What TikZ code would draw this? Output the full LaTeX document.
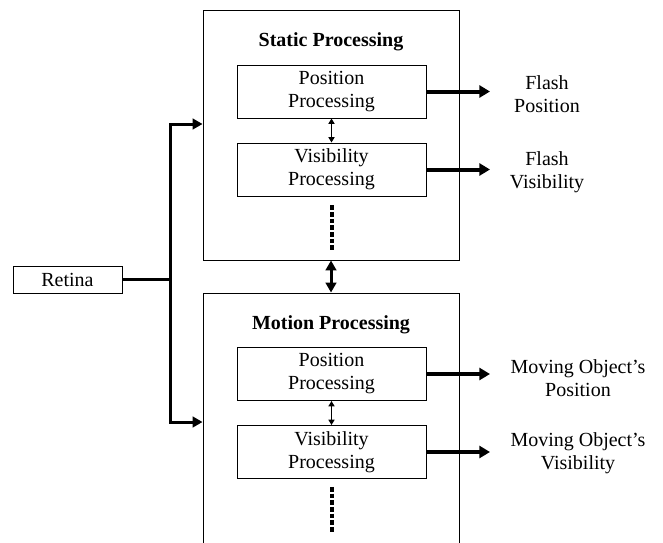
\documentclass[tikz,border=0pt]{standalone}
\usepackage{fontspec}
\setmainfont{Liberation Serif}
\usetikzlibrary{arrows.meta}

\begin{document}
\begin{tikzpicture}[x=0.75pt, y=-0.75pt, font=\fontsize{15}{17.25}\selectfont,
  stage/.style={draw, line width=0.7pt, minimum width=192pt, minimum height=187.5pt},
  unit/.style={draw, line width=0.7pt, minimum width=141.75pt, minimum height=39.75pt, align=center, inner sep=0pt},
  title/.style={font=\fontsize{15}{17.25}\selectfont\bfseries},
  result/.style={align=center},
  feed/.style={line width=2.25pt, -{Triangle[length=7.5pt, width=8pt]}},
  outflow/.style={line width=3pt, -{Triangle[length=8pt, width=9pt]}},
  swap/.style={line width=2.25pt, {Triangle[length=7.5pt, width=8pt]}-{Triangle[length=7.5pt, width=8pt]}},
  link/.style={line width=1pt, {Triangle[length=4pt, width=4.5pt]}-{Triangle[length=4pt, width=4.5pt]}},
  more/.style={line width=3pt, dash pattern=on 3.5pt off 1.5pt}]
\useasboundingbox (0,0) rectangle (663,542);
\clip (0,0) rectangle (663,542);

\node[draw, line width=0.7pt, minimum width=81.75pt, minimum height=20.25pt] (retina) at (67.5,279.5) {Retina};

% the two processing stages
\node[stage] (static) at (331,135) {};
\node[title] (statictitle) at (331,42) {Static Processing};
\node[unit] (sp) at (331.5,91.5) {Position\\Processing};
\node[unit] (sv) at (331.5,169.5) {Visibility\\Processing};

\node[stage] (motion) at (331,418) {};
\node[title] (motiontitle) at (331,325) {Motion Processing};
\node[unit] (mp) at (331.5,374) {Position\\Processing};
\node[unit] (mv) at (331.5,452) {Visibility\\Processing};

% outputs
\node[result] (flashpos) at (547,94) {Flash\\Position};
\node[result] (flashvis) at (547,172.5) {Flash\\Visibility};
\node[result] (movpos) at (578,378.5) {Moving Object's\\Position};
\node[result] (movvis) at (578,453.5) {Moving Object's\\Visibility};

\coordinate (fork) at (170,279.5);
\coordinate (outx) at (490,0);

% retina feeds both stages
\draw[feed] (retina.east) -- (fork) |- ([yshift=8.25pt]static.west);
\draw[feed] (fork) |- ([yshift=-3pt]motion.west);
\draw[swap] (static.south) -- (motion.north);

\draw[link] (sp.south) -- (sv.north);
\draw[link] (mp.south) -- (mv.north);
\draw[more] ([yshift=-6.75pt]sv.south) -- ++(0,45);
\draw[more] ([yshift=-6pt]mv.south) -- ++(0,46);

\foreach \u in {sp,sv,mp,mv}
  \draw[outflow] (\u.east) -- (\u.east -| outx);
\end{tikzpicture}
\end{document}
